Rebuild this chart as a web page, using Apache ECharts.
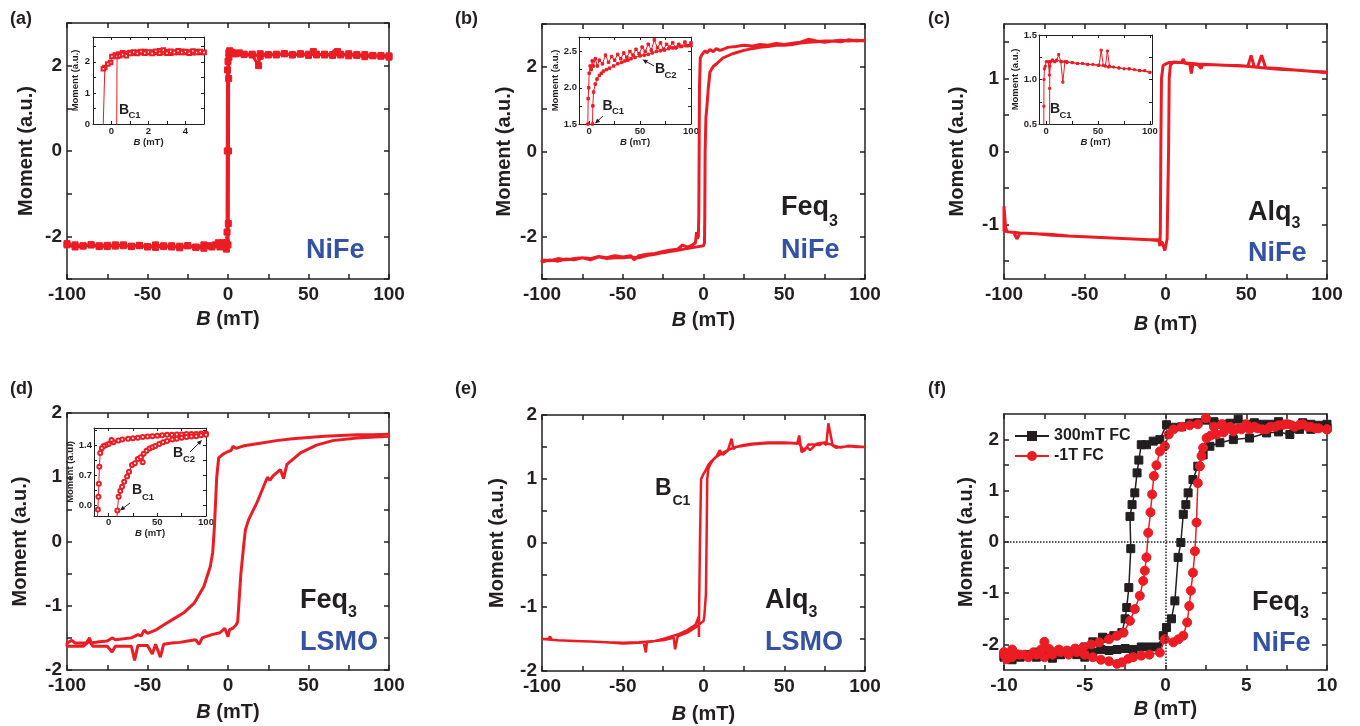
<!DOCTYPE html>
<html><head><meta charset="utf-8">
<script src="https://cdn.jsdelivr.net/npm/echarts@6/dist/echarts.min.js"></script>
<style>html,body{margin:0;padding:0;background:#fff}#c{width:1360px;height:726px}</style>
</head><body><div id="c"></div>
<script>
const RED='#EC1C24', INK='#231F20', BLUE='#3452A4', FONT='"Liberation Sans", Arial, sans-serif';

// ---------------- tick values / labels ----------------
const tickX100=[-100,-75,-50,-25,0,25,50,75,100], labX100=[-100,-50,0,50,100];
const tickY3=[-3,-2,-1,0,1,2,3], labY3=[-2,0,2];
const tickY175=[-1.5,-1,-0.5,0,0.5,1,1.5], labY175=[-1,0,1];
const tickY2=[-2,-1.5,-1,-0.5,0,0.5,1,1.5,2], labY2=[-2,-1,0,1,2];
const tickX10=[-10,-7.5,-5,-2.5,0,2.5,5,7.5,10], labX10=[-10,-5,0,5,10];
const tickY25=[-2,-1.5,-1,-0.5,0,0.5,1,1.5,2], labY25=[-2,-1,0,1,2];
const tickIaX=[0,1,2,3,4], labIaX=[0,2,4], tickIaY=[0,0.5,1,1.5,2,2.5], labIaY=[0,1,2];
const tickI100=[0,25,50,75,100], labI100=[0,50,100];
const tickIbY=[1.5,1.75,2,2.25,2.5], labIbY=[1.5,2.0,2.5];
const tickIcY=[0.5,0.75,1,1.25,1.5], labIcY=[0.5,1.0,1.5];
const tickIdY=[0,0.35,0.7,1.05,1.4,1.75], labIdY=[0,0.7,1.4];

// ---------------- (a) NiFe ----------------
const aDown=[[100,2.2],[95,2.22],[90,2.24],[85,2.21],[80,2.26],[75,2.23],[70,2.27],[67,2.3],[65,2.24],[60,2.25],[55,2.27],[53,2.33],[50,2.24],[45,2.27],[40,2.25],[35,2.28],[30,2.25],[25,2.26],[20,2.22],[15,2.27],[10,2.26],[5,2.28],[3,2.3],[1,2.35],[0.5,2.3],[0,2.1],[-0.3,1.9],[-0.45,0],[-0.6,-1.9],[-1,-2.15],[-3,-2.2],[-6,-2.15],[-10,-2.25],[-15,-2.2],[-20,-2.25],[-25,-2.22],[-30,-2.27],[-35,-2.22],[-40,-2.24],[-45,-2.2],[-50,-2.25],[-55,-2.22],[-60,-2.24],[-65,-2.2],[-70,-2.23],[-75,-2.21],[-80,-2.24],[-85,-2.2],[-90,-2.23],[-95,-2.25],[-100,-2.2]];
const aUp=[[-100,-2.17],[-95,-2.2],[-90,-2.22],[-85,-2.2],[-80,-2.22],[-75,-2.24],[-70,-2.2],[-65,-2.22],[-60,-2.23],[-55,-2.21],[-50,-2.24],[-45,-2.26],[-40,-2.22],[-35,-2.25],[-30,-2.23],[-25,-2.22],[-20,-2.26],[-15,-2.28],[-12,-2.22],[-8,-2.2],[-5,-2.25],[-3,-2.15],[-1,-2.3],[0,-2.2],[0.2,-1.7],[0.3,0],[0.4,1.7],[0.6,2.2],[1,2.3],[2,2.32],[4,2.28],[7,2.3],[10,2.27],[15,2.25],[19,2.0],[20,2.28],[25,2.25],[30,2.27],[35,2.28],[40,2.26],[45,2.28],[50,2.27],[55,2.25],[60,2.27],[65,2.26],[68,2.33],[70,2.25],[75,2.28],[80,2.24],[85,2.26],[90,2.23],[95,2.24],[100,2.23]];
const aInDown=[[5,2.31],[4.8,2.3],[4.6,2.33],[4.4,2.29],[4.2,2.32],[4,2.3],[3.8,2.34],[3.6,2.3],[3.4,2.32],[3.2,2.28],[3,2.33],[2.8,2.3],[2.6,2.36],[2.4,2.3],[2.2,2.32],[2,2.29],[1.8,2.33],[1.6,2.3],[1.4,2.31],[1.2,2.28],[1,2.3],[0.8,2.27],[0.6,2.29],[0.4,2.25],[0.2,2.22],[0.02,2.17],[-0.05,1.98],[-0.2,1.93],[-0.36,1.82],[-0.44,1.78],[-0.46,-0.3]];
const aInUp=[[0.28,-0.3],[0.3,2.17],[0.45,2.2],[0.6,2.24],[0.8,2.2],[1,2.27],[1.2,2.32],[1.4,2.27],[1.6,2.33],[1.8,2.28],[2,2.32],[2.2,2.27],[2.4,2.34],[2.6,2.28],[2.8,2.38],[3,2.28],[3.2,2.34],[3.4,2.3],[3.6,2.36],[3.8,2.3],[4,2.33],[4.2,2.28],[4.4,2.35],[4.6,2.3],[4.8,2.33],[5,2.3]];

// ---------------- (b) Feq3 / NiFe ----------------
const bDown=[[100,2.62],[95,2.6],[90,2.63],[85,2.58],[80,2.6],[75,2.57],[70,2.6],[65,2.64],[60,2.57],[55,2.55],[50,2.52],[45,2.54],[40,2.5],[35,2.52],[30,2.48],[25,2.5],[20,2.47],[15,2.45],[12,2.4],[10,2.38],[8,2.42],[6,2.35],[4,2.4],[2,2.32],[1,2.37],[0,2.33],[-1,2.28],[-2,2.2],[-2.5,1.5],[-2.7,0],[-2.9,-1.5],[-3.2,-2.0],[-3.8,-2.05],[-4.3,-1.9],[-5,-2.15],[-7,-2.2],[-10,-2.25],[-13,-2.2],[-16,-2.3],[-20,-2.32],[-25,-2.35],[-30,-2.4],[-35,-2.42],[-40,-2.45],[-43,-2.55],[-45,-2.45],[-50,-2.48],[-55,-2.45],[-60,-2.5],[-65,-2.47],[-70,-2.52],[-75,-2.5],[-80,-2.52],[-85,-2.55],[-90,-2.52],[-95,-2.57],[-100,-2.55]];
const bUp=[[-100,-2.6],[-95,-2.55],[-90,-2.58],[-85,-2.53],[-80,-2.55],[-75,-2.5],[-70,-2.55],[-65,-2.48],[-60,-2.52],[-55,-2.5],[-50,-2.5],[-45,-2.48],[-40,-2.5],[-35,-2.45],[-30,-2.42],[-25,-2.38],[-20,-2.35],[-15,-2.32],[-10,-2.28],[-5,-2.25],[0,-2.22],[0.6,-2.15],[0.8,-1.5],[1.0,0],[1.5,0.8],[2,1.0],[3,1.5],[4,1.87],[6,2.0],[8,2.06],[12,2.2],[18,2.3],[25,2.38],[30,2.42],[35,2.45],[40,2.47],[45,2.5],[50,2.5],[55,2.52],[60,2.55],[65,2.57],[70,2.58],[75,2.6],[80,2.6],[85,2.62],[90,2.6],[95,2.62],[100,2.6]];
const bInDown=[[100,2.62],[97,2.58],[94,2.63],[91,2.57],[88,2.6],[85,2.55],[82,2.62],[79,2.56],[76,2.6],[73,2.53],[70,2.62],[67,2.55],[64,2.66],[61,2.52],[58,2.6],[55,2.5],[52,2.56],[49,2.47],[46,2.53],[43,2.45],[40,2.5],[37,2.42],[34,2.48],[31,2.4],[28,2.46],[25,2.38],[22,2.43],[19,2.35],[16,2.45],[13,2.33],[10,2.38],[8,2.3],[6,2.4],[4,2.3],[3,2.37],[2,2.25],[1,2.3],[0,2.2],[-0.5,2.0],[-1,1.85],[-1.3,1.5],[-1.5,1.2]];
const bInUp=[[3,1.2],[3.3,1.5],[3.6,1.75],[4.3,1.94],[6,2.05],[7.7,2.12],[10,2.17],[12,2.2],[14,2.23],[17,2.25],[20,2.27],[24,2.3],[28,2.33],[32,2.35],[35,2.37],[38,2.38],[41,2.4],[45,2.42],[50,2.44],[54,2.45],[58,2.46],[62,2.48],[66,2.5],[70,2.51],[74,2.52],[78,2.54],[82,2.55],[86,2.56],[90,2.57],[95,2.58],[100,2.58]];

// ---------------- (c) Alq3 / NiFe ----------------
const cDown=[[100,1.09],[90,1.1],[80,1.12],[70,1.14],[62,1.15],[59.5,1.32],[57,1.16],[55,1.16],[53,1.32],[51,1.17],[45,1.18],[40,1.18],[30,1.19],[23,1.19],[22,1.14],[20,1.19],[17,1.2],[16,1.07],[15,1.2],[12,1.21],[11,1.27],[10,1.22],[5,1.22],[2,1.22],[0,1.2],[-1.5,1.18],[-2.5,1.0],[-2.9,0],[-3.2,-1.1],[-3.5,-1.3],[-4,-1.21],[-10,-1.21],[-20,-1.2],[-30,-1.19],[-40,-1.18],[-50,-1.17],[-60,-1.16],[-70,-1.14],[-80,-1.13],[-90,-1.12],[-92,-1.2],[-94,-1.11],[-98,-1.1],[-100,-1.09]];
const cUp=[[-100,-0.75],[-99,-1.05],[-98,-1.1],[-90,-1.12],[-80,-1.13],[-70,-1.15],[-60,-1.16],[-50,-1.17],[-40,-1.18],[-30,-1.19],[-20,-1.2],[-10,-1.21],[-5,-1.22],[-2,-1.25],[-0.4,-1.36],[1,-1.2],[1.9,0],[2.3,1.0],[3,1.18],[4.8,1.23],[10,1.22],[20,1.2],[30,1.19],[40,1.18],[50,1.17],[60,1.15],[70,1.13],[80,1.12],[90,1.1],[100,1.08]];
const cInDown=[[100,1.08],[95,1.1],[90,1.1],[85,1.11],[80,1.12],[75,1.12],[70,1.13],[65,1.14],[61,1.15],[59,1.32],[57,1.15],[55,1.16],[53,1.33],[51,1.16],[45,1.17],[40,1.17],[35,1.18],[30,1.18],[25,1.19],[20,1.19],[18,1.2],[16,0.97],[14,1.2],[12,1.28],[10,1.21],[8,1.2],[6,1.22],[4,1.2],[3,1.05],[2,1.2],[0,1.2],[-1,1.15],[-1.8,1.12],[-2.2,1.0],[-2.3,0.7],[-2.4,0.4]];
const cInUp=[[3.2,0.4],[3.3,0.9],[3.5,1.15],[4,1.2],[6,1.21],[8,1.2],[10,1.22],[15,1.2],[20,1.2],[25,1.19],[30,1.18],[40,1.17],[50,1.16],[60,1.14],[70,1.13],[80,1.12],[90,1.1],[100,1.08]];

// ---------------- (d) Feq3 / LSMO ----------------
const dDown=[[100,1.67],[90,1.66],[80,1.66],[70,1.65],[60,1.64],[50,1.62],[40,1.6],[30,1.57],[20,1.53],[10,1.49],[5,1.45],[3,1.48],[2,1.42],[0,1.4],[-3,1.36],[-5.8,1.3],[-7,1.0],[-8.5,0.2],[-9.5,-0.17],[-11,-0.39],[-15,-0.7],[-21,-0.96],[-27,-1.1],[-33.5,-1.2],[-40,-1.3],[-45,-1.38],[-50,-1.43],[-52,-1.38],[-54,-1.47],[-56,-1.45],[-60,-1.5],[-70,-1.53],[-72,-1.5],[-75,-1.55],[-80,-1.56],[-85,-1.58],[-86,-1.5],[-88,-1.58],[-95,-1.58],[-97,-1.54],[-100,-1.58]];
const dUp=[[-100,-1.63],[-90,-1.63],[-86,-1.55],[-84,-1.63],[-75,-1.63],[-72,-1.72],[-70,-1.63],[-65,-1.63],[-60,-1.63],[-58,-1.85],[-56,-1.62],[-50,-1.62],[-47,-1.75],[-45,-1.6],[-42,-1.8],[-40,-1.6],[-35,-1.58],[-30,-1.57],[-25,-1.55],[-20,-1.53],[-18,-1.6],[-16,-1.5],[-10,-1.45],[-5,-1.42],[-2,-1.35],[0,-1.48],[1,-1.37],[3,-1.35],[5,-1.3],[6,-1.25],[8,-0.5],[10,0],[10.8,0.18],[12.8,0.34],[17.9,0.6],[23,0.91],[24.5,1.0],[26,0.95],[28,1.02],[32.5,1.12],[34.5,0.98],[36.6,1.2],[45,1.38],[55,1.5],[65,1.57],[80,1.61],[100,1.64]];
const dInDown=[[100,1.67],[95,1.67],[90,1.66],[85,1.66],[80,1.66],[75,1.65],[70,1.65],[65,1.64],[60,1.64],[55,1.63],[50,1.62],[45,1.61],[40,1.6],[35,1.59],[30,1.57],[25,1.56],[20,1.55],[14,1.53],[10,1.51],[5,1.47],[3,1.52],[0,1.43],[-3,1.4],[-5,1.38],[-7,1.33],[-8.6,1.22],[-9.5,0.9],[-10,0.5],[-10.5,0.2],[-11,-0.1],[-11.5,-0.3]];
const dInUp=[[8.6,-0.3],[9,-0.12],[10.3,0.2],[12,0.33],[13.8,0.43],[16,0.55],[19,0.67],[21,0.78],[24,0.94],[27,0.98],[30,1.08],[33,1.12],[35,1.0],[36,1.2],[39,1.27],[42,1.32],[45,1.35],[48,1.38],[52,1.43],[56,1.47],[60,1.5],[65.5,1.53],[70,1.55],[75,1.57],[80,1.59],[85,1.6],[90,1.61],[95,1.63],[100,1.64]];

// ---------------- (e) Alq3 / LSMO ----------------
const eDown=[[100,1.5],[95,1.5],[90,1.51],[85,1.5],[82,1.49],[80,1.52],[77.3,1.87],[76,1.53],[74,1.57],[72,1.53],[70,1.54],[65,1.54],[62.8,1.45],[60.7,1.42],[59.3,1.68],[58,1.55],[55,1.56],[50,1.56],[45,1.56],[40,1.56],[35,1.55],[30,1.54],[25,1.52],[20,1.5],[15,1.45],[10,1.38],[7,1.33],[5,1.28],[3,1.22],[1,1.12],[0,1.08],[-1.5,1.0],[-2.2,0],[-2.7,-1.0],[-2.8,-1.47],[-3,-1.15],[-5,-1.28],[-10,-1.36],[-15,-1.42],[-20,-1.46],[-25,-1.5],[-30,-1.53],[-40,-1.55],[-50,-1.56],[-60,-1.55],[-70,-1.54],[-80,-1.53],[-90,-1.52],[-100,-1.5]];
const eUp=[[-100,-1.5],[-96,-1.5],[-95,-1.46],[-94,-1.51],[-90,-1.52],[-80,-1.53],[-70,-1.54],[-60,-1.55],[-50,-1.57],[-40,-1.56],[-37,-1.56],[-35.7,-1.71],[-35,-1.55],[-30,-1.53],[-25,-1.52],[-20,-1.49],[-18.5,-1.47],[-17.6,-1.66],[-16,-1.46],[-10,-1.4],[-5,-1.32],[-2,-1.26],[0,-1.22],[0.5,-1.15],[1.5,-0.8],[1.9,0],[2.3,1.0],[3,1.15],[4,1.22],[6,1.3],[8,1.35],[10,1.45],[12,1.38],[15,1.44],[17.4,1.63],[18.5,1.47],[20,1.5],[25,1.53],[30,1.55],[40,1.57],[50,1.57],[59,1.56],[62,1.45],[64,1.5],[66,1.45],[70,1.55],[75,1.57],[80,1.53],[85,1.49],[90,1.52],[100,1.5]];

// ---------------- (f) Feq3 / NiFe, field cooled ----------------
const fBlackDown=[[10,2.3],[9.5,2.28],[9,2.3],[8.5,2.33],[8,2.25],[7.5,2.3],[7,2.35],[6.5,2.3],[6,2.3],[5.5,2.33],[5,2.3],[4.5,2.4],[4,2.32],[3.5,2.3],[3,2.35],[2.5,2.38],[2,2.33],[1.5,2.32],[1,2.25],[0.5,2.24],[0.06,2.29],[-0.35,2.0],[-0.76,1.97],[-1.18,1.9],[-1.5,1.9],[-1.65,1.6],[-1.76,1.35],[-1.9,0.96],[-2.07,0.73],[-2.2,0.5],[-2.15,-0.13],[-2.27,-0.89],[-2.4,-1.28],[-2.5,-1.5],[-2.7,-1.77],[-3.2,-1.83],[-3.6,-1.88],[-3.9,-1.86],[-4.5,-1.95],[-5,-2.05],[-5.5,-2.1],[-6,-2.15],[-6.5,-2.2],[-7,-2.27],[-7.5,-2.2],[-8,-2.25],[-8.5,-2.2],[-9,-2.22],[-9.5,-2.2],[-10,-2.22]];
const fBlackUp=[[-10,-2.25],[-9.5,-2.3],[-9,-2.25],[-8.5,-2.2],[-8,-2.15],[-7.5,-2.2],[-7,-2.15],[-6.5,-2.2],[-6,-2.15],[-5.5,-2.2],[-5,-2.25],[-4.5,-2.15],[-4,-2.1],[-3.5,-2.12],[-3,-2.1],[-2.5,-2.08],[-2,-2.1],[-1.5,-2.05],[-1,-2.05],[-0.5,-2.05],[-0.14,-1.83],[0.06,-1.67],[0.37,-1.5],[0.58,-1.15],[0.78,-0.3],[0.95,-0.01],[1.1,0.54],[1.26,0.73],[1.4,0.96],[1.7,1.22],[2.0,1.48],[2.33,1.7],[2.75,1.87],[3.37,1.94],[4.2,2.0],[5.2,2.03],[6.26,2.13],[7,2.15],[7.7,2.1],[8.3,2.2],[9,2.2],[10,2.23]];
const fRedDown=[[10,2.2],[9.5,2.22],[9,2.25],[8.5,2.3],[8,2.25],[7.5,2.3],[7,2.28],[6.5,2.25],[6,2.2],[5.5,2.25],[5,2.3],[4.5,2.22],[4,2.25],[3.5,2.3],[3,2.25],[2.5,2.42],[2,2.3],[1.5,2.28],[1,2.25],[0.5,2.2],[0.2,2.1],[-0.04,1.87],[-0.35,1.77],[-0.56,1.5],[-0.72,1.29],[-0.83,0.93],[-0.93,0.58],[-1.07,0.18],[-1.18,-0.3],[-1.28,-0.56],[-1.38,-0.76],[-1.59,-1.05],[-1.9,-1.31],[-2.2,-1.54],[-2.6,-1.77],[-3.0,-1.83],[-3.5,-1.9],[-4.1,-1.96],[-4.6,-2.0],[-5.1,-2.06],[-5.6,-2.08],[-6.1,-2.12],[-6.6,-2.1],[-7.2,-2.09],[-7.5,-1.95],[-7.7,-2.1],[-8.2,-2.16],[-8.7,-2.2],[-9.2,-2.19],[-9.5,-2.1],[-9.85,-2.29],[-10,-2.2]];
const fRedUp=[[-10,-2.15],[-9.5,-2.25],[-9,-2.2],[-8.5,-2.25],[-8,-2.2],[-7.5,-2.25],[-7,-2.2],[-6.5,-2.15],[-6,-2.2],[-5.5,-2.15],[-5,-2.2],[-4.5,-2.25],[-4,-2.3],[-3.5,-2.33],[-3,-2.38],[-2.7,-2.35],[-2.3,-2.28],[-2,-2.25],[-1.5,-2.22],[-1,-2.2],[-0.35,-2.16],[-0.04,-1.9],[0.48,-1.96],[0.8,-1.9],[1.1,-1.83],[1.34,-1.57],[1.47,-1.25],[1.57,-0.95],[1.7,-0.6],[1.82,-0.18],[1.92,0.38],[2.0,1.15],[2.13,1.48],[2.23,1.68],[2.33,1.84],[2.54,2.03],[2.8,2.08],[3.16,2.1],[3.6,2.14],[4.2,2.16],[4.7,2.2],[5.2,2.2],[5.7,2.22],[6.26,2.2],[6.8,2.25],[7.3,2.29],[7.8,2.28],[8.3,2.29],[8.8,2.25],[9.3,2.22],[10,2.2]];

// ---------------- builders ----------------
const grids=[], xAxes=[], yAxes=[], series=[], graphics=[];
const xTitle='{i|B} (mT)', yTitle='Moment (a.u.)';
function nameStyle(fs){
  return {fontSize:fs,fontWeight:'bold',fontFamily:FONT,color:INK,
    rich:{i:{fontSize:fs,fontWeight:'bold',fontStyle:'italic',fontFamily:FONT,color:INK}}};
}
function mkAxis(gi,c,pos,main,inset){
  const lw=inset?1:1.5;
  const ax={type:'value',gridIndex:gi,min:c.min,max:c.max,position:pos,
    axisLine:{show:true,onZero:false,lineStyle:{color:INK,width:lw}},
    axisTick:{show:true,inside:true,length:inset?3:5,customValues:c.ticks,lineStyle:{color:INK,width:lw}},
    axisLabel:{show:main,customValues:c.labels,formatter:c.fmt,fontSize:inset?9.5:19,fontWeight:'bold',
      fontFamily:FONT,color:INK,margin:c.margin},
    splitLine:{show:false},minorTick:{show:false}};
  if(main){ax.name=c.name;ax.nameLocation='middle';ax.nameGap=c.gap;ax.nameTextStyle=nameStyle(inset?9.5:20);}
  return ax;
}
function addPanel(rect,xc,yc,inset){
  const gi=grids.length;
  grids.push({left:rect[0],top:rect[1],width:rect[2],height:rect[3],containLabel:false,outerBoundsMode:'none'});
  xAxes.push(mkAxis(gi,xc,'bottom',true,inset),mkAxis(gi,xc,'top',false,inset));
  yAxes.push(mkAxis(gi,yc,'left',true,inset),mkAxis(gi,yc,'right',false,inset));
  return gi;
}
function addLoop(gi,name,data,o){
  const s={type:'line',name:name,xAxisIndex:2*gi,yAxisIndex:2*gi,data:data,clip:true,animation:false,
    showSymbol:!!o.symbol,symbol:o.symbol||'none',symbolSize:o.size||0,
    lineStyle:{color:o.color,width:o.width},itemStyle:{color:o.color,borderColor:o.color,borderWidth:o.bw||1},
    z:o.z||2};
  if(o.markLine) s.markLine=o.markLine;
  series.push(s);
}
const f0=v=>String(v), f1=v=>v.toFixed(1);

// main panels
const gA=addPanel([67,23,322,256],{min:-100,max:100,ticks:tickX100,labels:labX100,fmt:f0,margin:6,name:xTitle,gap:30},{min:-3,max:3,ticks:tickY3,labels:labY3,fmt:f0,margin:5,name:yTitle,gap:31});
const gB=addPanel([542,24,323,255],{min:-100,max:100,ticks:tickX100,labels:labX100,fmt:f0,margin:6,name:xTitle,gap:31},{min:-3,max:3,ticks:tickY3,labels:labY3,fmt:f0,margin:5,name:yTitle,gap:28});
const gC=addPanel([1004,24,323,255],{min:-100,max:100,ticks:tickX100,labels:labX100,fmt:f0,margin:6,name:xTitle,gap:35},{min:-1.75,max:1.75,ticks:tickY175,labels:labY175,fmt:f0,margin:5,name:yTitle,gap:37});
const gD=addPanel([67,413,322,257],{min:-100,max:100,ticks:tickX100,labels:labX100,fmt:f0,margin:6,name:xTitle,gap:32},{min:-2,max:2,ticks:tickY2,labels:labY2,fmt:f0,margin:5,name:yTitle,gap:37});
const gE=addPanel([542,415,323,256],{min:-100,max:100,ticks:tickX100,labels:labX100,fmt:f0,margin:6,name:xTitle,gap:33},{min:-2,max:2,ticks:tickY2,labels:labY2,fmt:f0,margin:5,name:yTitle,gap:35});
const gF=addPanel([1004,414,323,256],{min:-10,max:10,ticks:tickX10,labels:labX10,fmt:f0,margin:6,name:xTitle,gap:29},{min:-2.5,max:2.5,ticks:tickY25,labels:labY25,fmt:f0,margin:5,name:yTitle,gap:28});
// insets
const gIA=addPanel([93,37,111,87],{min:-1,max:5,ticks:tickIaX,labels:labIaX,fmt:f0,margin:2,name:xTitle,gap:10},{min:0,max:2.8,ticks:tickIaY,labels:labIaY,fmt:f0,margin:3,name:yTitle,gap:7},true);
const gIB=addPanel([579,37,112,87],{min:-10,max:100,ticks:tickI100,labels:labI100,fmt:f0,margin:2,name:xTitle,gap:9},{min:1.5,max:2.7,ticks:tickIbY,labels:labIbY,fmt:f1,margin:2,name:yTitle,gap:15},true);
const gIC=addPanel([1039,35,113,89],{min:-7,max:102,ticks:tickI100,labels:labI100,fmt:f0,margin:2,name:xTitle,gap:8},{min:0.5,max:1.5,ticks:tickIcY,labels:labIcY,fmt:f1,margin:2,name:yTitle,gap:15},true);
const gID=addPanel([94,428,112,88],{min:-15,max:100,ticks:tickI100,labels:labI100,fmt:f0,margin:1,name:xTitle,gap:7},{min:-0.25,max:1.8,ticks:tickIdY,labels:labIdY,fmt:f1,margin:2,name:yTitle,gap:15},true);

addLoop(gA,'a',aDown.concat(aUp),{color:RED,width:3,symbol:'rect',size:6});
addLoop(gB,'b',bDown.concat(bUp),{color:RED,width:3});
addLoop(gC,'c',cDown.concat(cUp),{color:RED,width:3});
addLoop(gD,'d',dDown.concat(dUp),{color:RED,width:3});
addLoop(gE,'e',eDown.concat(eUp),{color:RED,width:2.5});
addLoop(gF,'300mT FC',fBlackDown.concat(fBlackUp),{color:INK,width:1.5,symbol:'rect',size:8,
  markLine:{silent:true,symbol:['none','none'],label:{show:false},animation:false,
    lineStyle:{color:INK,type:'dotted',width:1.5},data:[{yAxis:0},{xAxis:0}]}});
addLoop(gF,'-1T FC',fRedDown.concat(fRedUp),{color:RED,width:1.5,symbol:'circle',size:9,z:3});
addLoop(gIA,'ia',aInDown.concat(aInUp),{color:RED,width:1,symbol:'emptyRect',size:3.5,z:6});
addLoop(gIB,'ib',bInDown.concat(bInUp),{color:RED,width:1,symbol:'rect',size:2.5,z:6});
addLoop(gIC,'ic',cInDown.concat(cInUp),{color:RED,width:1,symbol:'rect',size:2,z:6});
addLoop(gID,'id',dInDown.concat(dInUp),{color:RED,width:1,symbol:'emptyCircle',size:4,z:6});

// ---------------- annotations ----------------
function txt(x,y,t,fs,color){
  graphics.push({type:'text',x:x,y:y,z:100,style:{text:t,fontSize:fs,fontWeight:'bold',fontFamily:FONT,fill:color,align:'left',verticalAlign:'middle'}});
}
function sub(x,y,base,s,fs,sfs,dx,dy,color){
  txt(x,y,base,fs,color||INK); txt(x+dx,y+dy,s,sfs,color||INK);
}
function arrow(x1,y1,x2,y2){
  const a=Math.atan2(y2-y1,x2-x1),L=5,W=2.2,c=Math.cos(a),s=Math.sin(a);
  graphics.push({type:'line',z:100,shape:{x1:x1,y1:y1,x2:x2-2*c,y2:y2-2*s},style:{stroke:INK,lineWidth:1}});
  graphics.push({type:'polygon',z:100,shape:{points:[[x2,y2],[x2-L*c+W*s,y2-L*s-W*c],[x2-L*c-W*s,y2-L*s+W*c]]},style:{fill:INK}});
}
// panel letters
[['(a)',10,19],['(b)',455,19],['(c)',928,19],['(d)',10,389],['(e)',455,389],['(f)',928,389]].forEach(p=>txt(p[1],p[2],p[0],18,INK));
// sample names
txt(306,251,'NiFe',27,BLUE);
sub(781,207.5,'Feq','3',27,16,48,14); txt(781,250.5,'NiFe',27,BLUE);
sub(1248,212.5,'Alq','3',27,16,43.5,11); txt(1248,254,'NiFe',27,BLUE);
sub(300,601,'Feq','3',27,16,48,12); txt(300,642.5,'LSMO',27,BLUE);
sub(765,601,'Alq','3',27,16,43.5,12); txt(765,642.5,'LSMO',27,BLUE);
sub(1252,602.5,'Feq','3',27,16,48,11); txt(1252,644,'NiFe',27,BLUE);
// critical field labels
sub(655,488.5,'B','C1',23,14,17.5,12.5);
sub(119,110,'B','C1',14,9.5,9.5,5.5);
sub(602.5,106,'B','C1',14,9.5,9.5,5.5); arrow(603,116,595,123.5);
sub(655,69.5,'B','C2',14,9.5,9.5,5.5); arrow(654,66,642.5,59.5);
sub(1050,109,'B','C1',14,9.5,9.5,6);
sub(132,490.5,'B','C1',14,9.5,10,6.5); arrow(130,503,120,510.5);
sub(173,453,'B','C2',14,9.5,10,6.5); arrow(190,452,202,440);

const chart=echarts.init(document.getElementById('c'),null,{renderer:'canvas'});
chart.setOption({
  animation:false, backgroundColor:'#fff',
  grid:grids, xAxis:xAxes, yAxis:yAxes, series:series, graphic:graphics,
  legend:{data:['300mT FC','-1T FC'],orient:'vertical',left:1014,top:428,itemWidth:34,itemHeight:10,itemGap:4,padding:0,
    textStyle:{fontSize:16,fontWeight:'bold',fontFamily:FONT,color:INK}}
});
</script></body></html>
